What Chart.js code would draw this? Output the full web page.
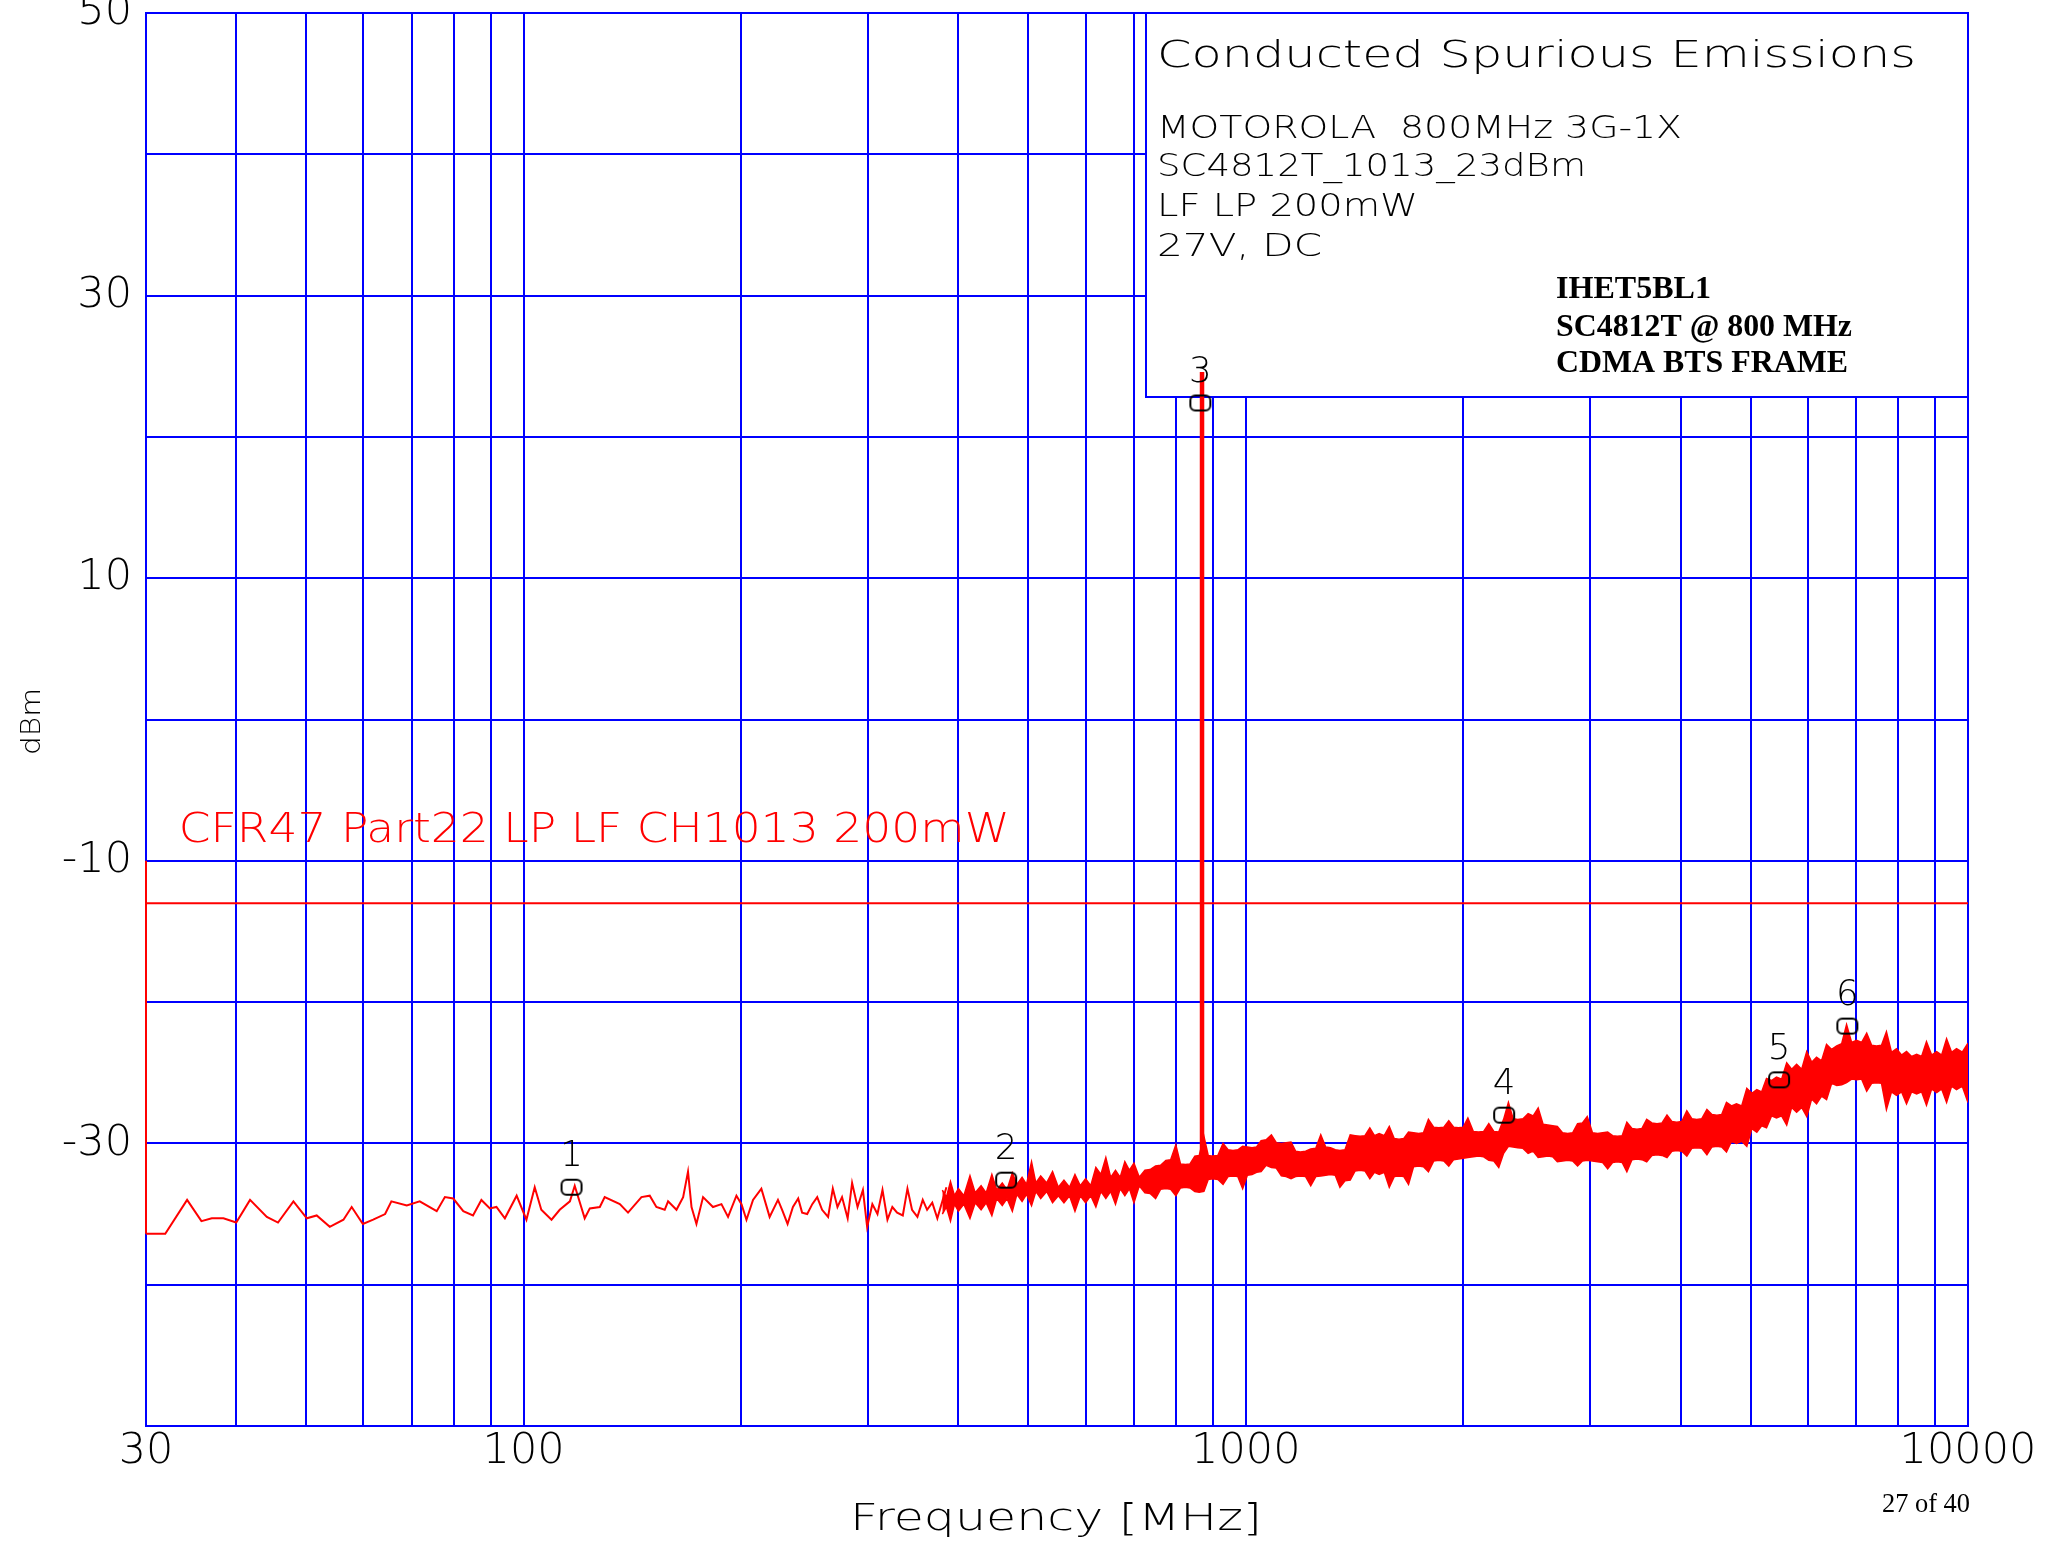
<!DOCTYPE html>
<html>
<head>
<meta charset="utf-8">
<script src="https://cdn.jsdelivr.net/npm/chart.js@4.4.1/dist/chart.umd.min.js"></script>
<style>
  html, body { margin: 0; padding: 0; background: #fff; }
</style>
</head>
<body>
<canvas id="plot" width="2049" height="1548"></canvas>
<script>
// axis grid / labels
const xGrid = [30, 40, 50, 60, 70, 80, 90, 100, 200, 300, 400, 500, 600, 700, 800, 900,
  1000, 2000, 3000, 4000, 5000, 6000, 7000, 8000, 9000, 10000];
const xLabels = [30, 100, 1000, 10000];
const yLabels = [50, 30, 10, -10, -30];

// low band sweep, thin trace (MHz, dBm)
const lowFreq = [30, 31.9, 34.2, 35.8, 37.0, 38.4, 40.0, 41.8, 44.1, 45.7, 48.0, 50.1, 51.7, 53.9,
  56.3, 57.8, 59.9, 61.9, 64.3, 65.6, 68.9, 71.8, 75.8, 77.8, 79.9, 82.5, 85.1, 87.4, 89.8, 91.7,
  94.2, 97.8, 100.9, 103.6, 105.8, 109.3, 112.2, 115.9, 117.7, 121.5, 123.5, 127.5, 129.5, 135.9,
  139.5, 145.6, 149.5, 152.7, 156.8, 158.5, 162.8, 166.3, 168.9, 170.8, 173.5, 177.2, 182.9,
  187.9, 191.9, 197.1, 200.3, 203.5, 207.8, 213.4, 219.1, 225, 228, 232, 236, 240, 243, 247, 251,
  255, 259, 264, 268, 272, 276, 281, 285, 290, 295, 299, 304, 309, 314, 319, 324, 329, 335, 340,
  345, 351, 357, 362, 368, 374, 385];
const lowLevel = [-36.4, -36.4, -34.0, -35.5, -35.3, -35.3, -35.6, -34.0, -35.2, -35.6, -34.1, -35.3,
  -35.1, -35.9, -35.4, -34.5, -35.7, -35.4, -35.0, -34.1, -34.4, -34.1, -34.8, -33.8, -33.9, -34.8,
  -35.1, -34.0, -34.6, -34.5, -35.3, -33.7, -35.4, -33.1, -34.7, -35.4, -34.7, -34.1, -33.0, -35.3,
  -34.6, -34.5, -33.8, -34.3, -34.9, -33.8, -33.7, -34.5, -34.7, -34.1, -34.7, -33.8, -32.0, -34.5,
  -35.7, -33.8, -34.5, -34.3, -35.2, -33.7, -34.3, -35.4, -34.0, -33.2, -35.2, -34.0, -34.7, -35.7,
  -34.5, -33.9, -34.9, -35.0, -34.3, -33.8, -34.7, -35.2, -33.2, -34.5, -33.8, -35.3, -32.8, -34.5,
  -33.3, -35.9, -34.3, -35.0, -33.3, -35.4, -34.5, -34.9, -35.1, -33.2, -34.7, -35.2, -34.0, -34.7,
  -34.2, -35.3, -33.1];

// upper band sweep, drawn as a noise band (MHz, upper and lower edge in dBm)
const bandFreq = [380, 385, 390, 395, 400, 407, 415, 422, 430, 437, 445, 452, 460, 467, 475, 482,
  490, 497, 505, 512, 520, 530, 540, 550, 560, 570, 580, 590, 600, 610, 620, 630, 640, 650, 660, 670,
  680, 690, 700, 712, 725, 737, 750, 762, 775, 787, 800, 812, 825, 837, 850, 862, 875, 887, 900, 915,
  930, 945, 960, 975, 990, 1005, 1020, 1035, 1050, 1067, 1085, 1102, 1120, 1137, 1155, 1172, 1190,
  1210, 1230, 1250, 1270, 1290, 1310, 1330, 1350, 1372, 1395, 1417, 1440, 1462, 1485, 1507, 1530,
  1555, 1580, 1605, 1630, 1655, 1680, 1707, 1735, 1762, 1790, 1820, 1850, 1880, 1910, 1940, 1970,
  2000, 2030, 2065, 2100, 2135, 2170, 2205, 2240, 2275, 2310, 2345, 2380, 2420, 2460, 2500, 2540,
  2580, 2620, 2660, 2700, 2745, 2790, 2835, 2880, 2925, 2970, 3020, 3070, 3120, 3170, 3220, 3270,
  3320, 3370, 3425, 3480, 3535, 3590, 3650, 3710, 3770, 3830, 3890, 3950, 4015, 4080, 4145, 4210,
  4280, 4350, 4420, 4490, 4560, 4630, 4705, 4780, 4860, 4940, 5020, 5100, 5180, 5260, 5345, 5430,
  5520, 5610, 5700, 5790, 5885, 5980, 6075, 6170, 6270, 6370, 6475, 6580, 6685, 6790, 6900, 7010,
  7125, 7240, 7355, 7470, 7590, 7710, 7835, 7960, 8090, 8220, 8355, 8490, 8625, 8760, 8905, 9050,
  9195, 9340, 9490, 9640, 9820, 10000];
const bandTop = [-33.3, -33.8, -32.7, -33.7, -33.2, -33.7, -32.3, -33.5, -33.0, -33.5, -32.2, -33.3,
  -32.8, -33.3, -32.1, -32.9, -32.4, -32.9, -31.3, -32.8, -32.3, -32.8, -32.0, -33.1, -32.6, -33.1,
  -32.2, -33.0, -32.5, -33.0, -31.7, -32.2, -31.0, -32.4, -31.9, -32.4, -31.3, -31.9, -31.4, -32.4,
  -31.9, -31.85, -31.6, -31.55, -31.2, -31.15, -30.1, -31.45, -31.5, -31.45, -30.9, -30.85, -29.5, -30.85,
  -30.9, -30.85, -30.0, -30.45, -30.5, -30.45, -30.2, -30.25, -30.3, -30.25, -29.8, -29.75, -29.4, -29.95,
  -30.0, -29.95, -29.9, -30.55, -30.6, -30.55, -30.4, -30.35, -29.4, -30.25, -30.3, -30.45, -30.5, -30.45,
  -29.4, -29.45, -29.5, -29.45, -28.9, -29.45, -29.3, -29.45, -28.8, -29.65, -29.7, -29.65, -29.2, -29.25,
  -29.3, -29.25, -28.3, -28.85, -28.9, -28.85, -28.4, -28.85, -28.9, -28.85, -28.2, -29.15, -29.2, -29.15,
  -28.6, -29.15, -29.2, -28.3, -27.1, -28.25, -28.3, -28.25, -27.9, -28.05, -27.5, -28.65, -28.7, -28.75,
  -28.8, -29.25, -29.3, -29.25, -28.6, -28.55, -28.1, -29.25, -29.3, -29.25, -29.2, -29.45, -29.5, -29.45,
  -28.5, -28.95, -29.0, -28.95, -28.3, -28.55, -28.6, -28.55, -28.0, -28.45, -28.5, -28.45, -27.7, -28.25,
  -28.3, -28.25, -27.6, -27.95, -28.0, -27.95, -27.1, -27.35, -27.2, -27.35, -26.1, -26.45, -26.2, -26.35,
  -25.4, -25.55, -25.3, -25.45, -24.3, -24.75, -24.4, -24.75, -23.5, -24.25, -23.9, -24.15, -23.0, -23.35,
  -23.1, -22.95, -21.6, -22.85, -22.7, -22.85, -22.2, -23.05, -23.1, -23.05, -22.1, -23.55, -23.3, -23.75,
  -23.5, -23.85, -23.7, -23.85, -22.8, -23.75, -23.5, -23.75, -22.6, -23.55, -23.3, -23.55, -22.9];
const bandBottom = [-35.0, -34.5, -35.5, -34.3, -34.8, -34.3, -35.3, -34.2, -34.7, -34.2, -35.1, -33.9,
  -34.4, -33.9, -34.8, -33.6, -34.1, -33.6, -34.4, -33.4, -33.9, -33.4, -34.2, -33.7, -34.2, -33.7,
  -34.8, -33.7, -34.2, -33.7, -34.5, -33.4, -33.9, -33.4, -34.3, -33.2, -33.7, -33.2, -34.2, -33.0,
  -33.5, -33.55, -33.9, -33.25, -33.2, -33.25, -33.7, -33.15, -33.1, -33.15, -33.4, -33.45, -33.4, -32.55,
  -32.5, -32.55, -32.9, -32.35, -32.3, -32.35, -33.2, -32.25, -32.2, -32.05, -32.0, -31.55, -31.7, -31.75,
  -32.3, -32.35, -32.5, -32.35, -32.3, -32.35, -33.0, -32.35, -32.3, -32.25, -32.2, -32.25, -33.1, -32.65,
  -32.6, -31.95, -31.9, -31.95, -32.5, -32.05, -32.2, -32.05, -33.1, -32.35, -32.3, -32.35, -32.9, -31.65,
  -31.6, -31.65, -32.0, -31.25, -31.2, -31.25, -31.6, -31.15, -31.1, -31.05, -31.0, -30.95, -30.9, -30.95,
  -31.2, -31.25, -31.7, -30.7, -30.2, -30.25, -30.3, -30.35, -30.7, -30.55, -31.0, -30.95, -30.9, -30.95,
  -31.3, -31.25, -31.2, -31.25, -31.6, -31.25, -31.2, -31.25, -31.3, -31.35, -31.8, -31.35, -31.3, -31.35,
  -32.0, -31.15, -31.1, -31.15, -31.3, -30.85, -30.8, -30.85, -31.0, -30.55, -30.5, -30.55, -30.9, -30.35,
  -30.3, -30.35, -30.8, -30.25, -30.2, -30.25, -30.6, -29.85, -30.0, -29.85, -30.2, -28.95, -29.2, -28.75,
  -28.9, -28.05, -28.2, -28.05, -28.7, -27.45, -27.8, -27.45, -28.1, -26.85, -27.2, -26.65, -26.9, -25.75,
  -25.9, -25.85, -25.7, -25.45, -25.5, -25.45, -26.3, -25.75, -25.7, -25.75, -27.6, -26.35, -26.6, -26.35,
  -27.2, -26.35, -26.5, -26.35, -27.3, -26.15, -26.4, -26.15, -27.1, -25.95, -26.2, -25.95, -27.1];

// carrier, limit line and its left edge
const carrierFreq = [869.7, 869.7];
const carrierLevel = [-31.5, 24.6];
const limitFreq = [30, 10000];
const limitLevel = [-13, -13];
const edgeFreq = [30, 30];
const edgeLevel = [-10, -36.4];

// peak markers
const markerFreq = [116.5, 465.8, 865, 2279, 5475, 6807];
const markerLevel = [-33.1, -32.6, 22.4, -28.0, -25.5, -21.7];
const markerNames = ['1', '2', '3', '4', '5', '6'];

const RED = '#ff0000';
const BLUE = '#0000ff';
const THIN = '"DejaVu Sans", sans-serif';
const SERIF = '"Liberation Serif", "Times New Roman", serif';

const pts = (xs, ys) => xs.map((x, i) => ({ x: x, y: ys[i] }));

// marker symbol: small rounded box
const ring = document.createElement('canvas');
ring.width = 24; ring.height = 19;
const rc = ring.getContext('2d');
rc.strokeStyle = '#000'; rc.lineWidth = 2;
rc.beginPath(); rc.roundRect(2, 2, 20, 15, 5); rc.stroke();

// draw text with a given cap height, optionally stretched to a width
function fitText(ctx, txt, x, y, cap, width, o) {
  o = o || {};
  const ratio = o.capRatio || 0.73;
  const size = cap / ratio;
  ctx.save();
  ctx.font = (o.weight || '200') + ' ' + size + 'px ' + (o.family || THIN);
  ctx.fillStyle = o.color || '#000';
  ctx.textBaseline = 'alphabetic';
  ctx.textAlign = 'left';
  const w = ctx.measureText(txt).width;
  const sx = width ? width / w : 1;
  const tw = w * sx;
  let left = x;
  if (o.align === 'center') left = x - tw / 2;
  if (o.align === 'right') left = x - tw;
  ctx.translate(left, y + cap / 2);
  ctx.scale(sx, 1);
  ctx.fillText(txt, 0, 0);
  ctx.restore();
}

const paper = {
  id: 'paper',
  beforeDraw(chart) {
    const ctx = chart.ctx;
    ctx.save();
    ctx.fillStyle = '#fff';
    ctx.fillRect(0, 0, chart.width, chart.height);
    ctx.restore();
  },
  beforeDatasetsDraw(chart) {
    const { ctx, chartArea: a } = chart;
    const left = a.right - 822, top = a.top, h = 384;
    ctx.save();
    ctx.fillStyle = '#fff';
    ctx.fillRect(left, top, a.right - left, h);
    ctx.strokeStyle = BLUE; ctx.lineWidth = 2;
    ctx.strokeRect(left, top, a.right - left, h);
    ctx.restore();
    fitText(ctx, 'Conducted Spurious Emissions', left + 11, top + 40, 27, 759);
    fitText(ctx, 'MOTOROLA  800MHz 3G-1X', left + 11, top + 113, 23, 525);
    fitText(ctx, 'SC4812T_1013_23dBm', left + 11, top + 151, 23, 429);
    fitText(ctx, 'LF LP 200mW', left + 11, top + 191, 23, 261);
    fitText(ctx, '27V, DC', left + 11, top + 231, 23, 165);
    const serif = { family: SERIF, weight: 'bold', capRatio: 0.66 };
    fitText(ctx, 'IHET5BL1', left + 410, top + 274.5, 21.5, 155, serif);
    fitText(ctx, 'SC4812T @ 800 MHz', left + 410, top + 312, 21.5, 296, serif);
    fitText(ctx, 'CDMA BTS FRAME', left + 410, top + 348, 21.5, 292, serif);
  },
  afterDatasetsDraw(chart) {
    const ctx = chart.ctx;
    const xs = chart.scales.x, ys = chart.scales.y;
    // limit label
    fitText(ctx, 'CFR47 Part22 LP LF CH1013 200mW', xs.getPixelForValue(33.3), ys.getPixelForValue(-7.6),
      30, 831, { color: RED });
    // marker numbers
    chart.getDatasetMeta(0).data.forEach((p, i) => {
      fitText(ctx, markerNames[i], p.x, p.y - 34, 26, null, { align: 'center' });
    });
  },
  afterDraw(chart) {
    const ctx = chart.ctx;
    const a = chart.chartArea;
    fitText(ctx, 'Frequency [MHz]', 1056, 1516, 27, 412, { align: 'center' });
    ctx.save();
    ctx.translate(30, (a.top + a.bottom) / 2 + 2);
    ctx.rotate(-Math.PI / 2);
    fitText(ctx, 'dBm', 0, 0, 20, 67, { align: 'center' });
    ctx.restore();
    fitText(ctx, '27 of 40', 1970, 1503, 18, 88,
      { family: SERIF, weight: 'normal', capRatio: 0.66, align: 'right' });
  }
};

const tickFont = { family: THIN, size: 43, weight: 200 };

new Chart(document.getElementById('plot'), {
  type: 'line',
  data: {
    datasets: [
      { data: pts(markerFreq, markerLevel), showLine: false, pointStyle: ring, pointRadius: 6,
        borderColor: '#000', backgroundColor: 'rgba(0,0,0,0)' },
      { data: pts(carrierFreq, carrierLevel), borderColor: RED, borderWidth: 4.5, pointRadius: 0 },
      { data: pts(lowFreq, lowLevel), borderColor: RED, borderWidth: 2, pointRadius: 0 },
      { data: pts(bandFreq, bandTop), borderColor: RED, borderWidth: 1.5, pointRadius: 0 },
      { data: pts(bandFreq, bandBottom), borderColor: RED, borderWidth: 1.5, pointRadius: 0,
        fill: '-1', backgroundColor: RED },
      { data: pts(limitFreq, limitLevel), borderColor: RED, borderWidth: 2, pointRadius: 0 },
      { data: pts(edgeFreq, edgeLevel), borderColor: RED, borderWidth: 2, pointRadius: 0, clip: false }
    ]
  },
  options: {
    responsive: false,
    animation: false,
    devicePixelRatio: 1,
    layout: { padding: { top: 13, right: 81, bottom: 0, left: 0 } },
    plugins: { legend: { display: false }, tooltip: { enabled: false } },
    scales: {
      x: {
        type: 'logarithmic', min: 30, max: 10000,
        afterBuildTicks: s => { s.ticks = xGrid.map(v => ({ value: v })); },
        afterFit: s => { s.height = 122; s.paddingLeft = 0; s.paddingRight = 0; },
        grid: { color: BLUE, lineWidth: 2, drawTicks: false },
        border: { color: BLUE, width: 2 },
        ticks: { autoSkip: false, maxRotation: 0, padding: 0, color: '#000', font: tickFont,
          callback: v => xLabels.includes(v) ? String(v) : '' }
      },
      y: {
        min: -50, max: 50,
        afterFit: s => { s.width = 146; s.paddingTop = 0; s.paddingBottom = 0; },
        grid: { color: BLUE, lineWidth: 2, drawTicks: false },
        border: { color: BLUE, width: 2 },
        ticks: { stepSize: 10, padding: 14, color: '#000', font: tickFont,
          callback: v => yLabels.includes(v) ? String(v) : '' }
      }
    }
  },
  plugins: [paper]
});
</script>
</body>
</html>
